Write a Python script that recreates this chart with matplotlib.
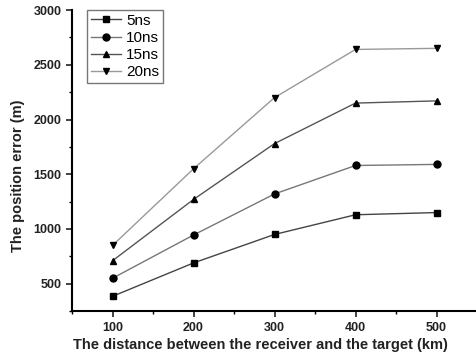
import matplotlib
matplotlib.use("Agg")
import matplotlib.pyplot as plt
from matplotlib.ticker import MultipleLocator

plt.rcParams["font.family"] = ["Liberation Sans", "DejaVu Sans"]
plt.rcParams["font.weight"] = "bold"

distance = [100, 200, 300, 400, 500]
err_5ns = [385, 690, 950, 1130, 1150]
err_10ns = [550, 945, 1320, 1580, 1590]
err_15ns = [710, 1270, 1780, 2150, 2170]
err_20ns = [850, 1550, 2200, 2640, 2650]

series = [
    ("5ns", err_5ns, "s", "#444444"),
    ("10ns", err_10ns, "o", "#777777"),
    ("15ns", err_15ns, "^", "#555555"),
    ("20ns", err_20ns, "v", "#999999"),
]

fig = plt.figure(figsize=(4.77, 3.58), dpi=100)
ax = fig.add_axes([0.151, 0.131, 0.849, 0.841])

for label, vals, marker, color in series:
    ax.plot(distance, vals, color=color, lw=1.0, marker=marker,
            markersize=5, markerfacecolor="black", markeredgecolor="black",
            label=label)

ax.set_xlim(50, 550)
ax.set_ylim(250, 3000)
ax.xaxis.set_major_locator(MultipleLocator(100))
ax.xaxis.set_minor_locator(MultipleLocator(50))
ax.yaxis.set_major_locator(MultipleLocator(500))
ax.yaxis.set_minor_locator(MultipleLocator(250))

for s in ["top", "right"]:
    ax.spines[s].set_visible(False)
for s in ["left", "bottom"]:
    ax.spines[s].set_linewidth(1.5)

ax.tick_params(which="major", direction="out", length=4, width=1.2,
               labelsize=9, colors="#222222")
ax.tick_params(which="minor", direction="out", length=2.5, width=1.0)

ax.set_xlabel("The distance between the receiver and the target (km)",
              fontsize=10.5, fontweight="bold", color="#222222")
ax.set_ylabel("The position error (m)", fontsize=10.5, fontweight="bold",
              color="#222222")
ax.xaxis.set_label_coords(0.465, -0.09)
ax.yaxis.set_label_coords(-0.115, 0.45)

leg = ax.legend(loc="upper left", bbox_to_anchor=(0.037, 1.0),
                prop={"size": 11, "weight": "normal"},
                frameon=True, fancybox=False, edgecolor="#555555",
                handlelength=2.0, labelspacing=0.2, borderpad=0.25,
                handletextpad=0.3, borderaxespad=0.0)
leg.get_frame().set_linewidth(1.0)

fig.savefig("out.png", dpi=100)
